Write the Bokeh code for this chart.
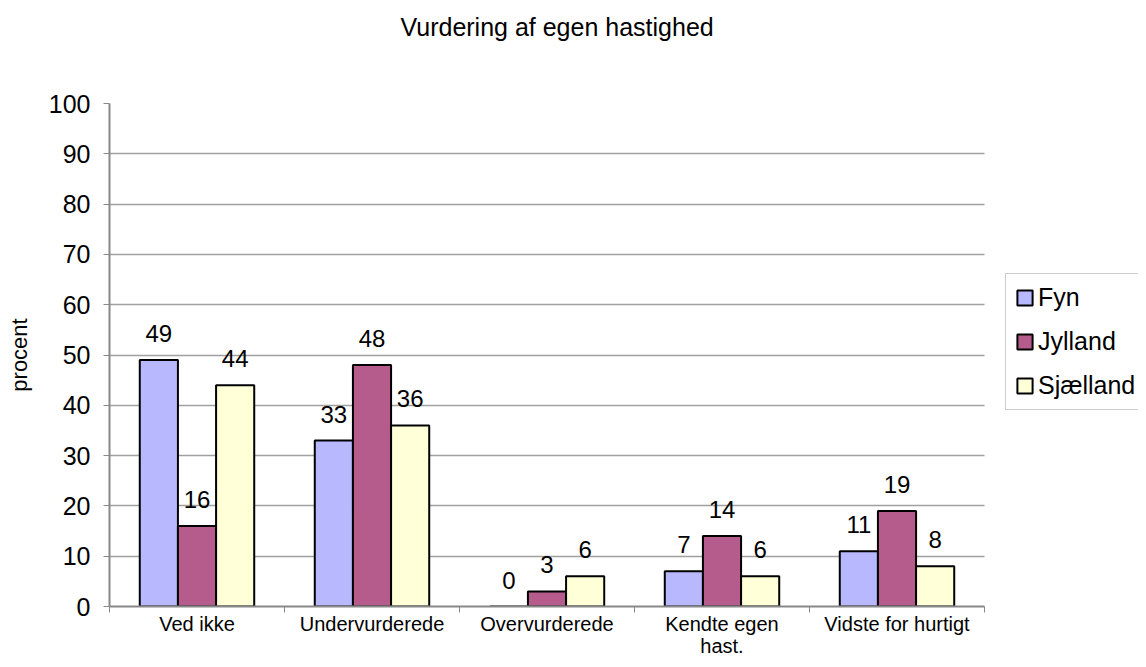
from bokeh.plotting import figure
from bokeh.models import ColumnDataSource, FixedTicker, Legend, LegendItem, Range1d, LabelSet, Title
from bokeh.core.properties import value
from bokeh.embed import file_html
from bokeh.resources import INLINE

categories = ["Ved ikke", "Undervurderede", "Overvurderede", "Kendte egen\nhast.", "Vidste for hurtigt"]
series_names = ["Fyn", "Jylland", "Sjælland"]
fyn = [49, 33, 0, 7, 11]
jylland = [16, 48, 3, 14, 19]
sjaelland = [44, 36, 6, 6, 8]
colors = ["#b8b8ff", "#b65c8c", "#ffffd8"]
y_ticks = list(range(0, 101, 10))
title_text = "Vurdering af egen hastighed"

FONT = "Liberation Sans"
N = len(categories)
X_END = 5.88  # extra room on the right of the frame for the legend

p = figure(width=1138, height=659, output_backend="svg", toolbar_location=None,
           x_range=Range1d(0, X_END), y_range=Range1d(0, 100),
           min_border_left=109, min_border_right=0, min_border_top=103, min_border_bottom=53)
p.title.text = title_text
p.title.align = "left"
p.title.offset = 291
p.title.text_font = FONT
p.title.text_font_size = "25px"
p.title.text_font_style = "normal"
p.title.text_color = "black"
p.title.standoff = 0

# empty spacer between the title and the plot area
spacer = Title(text=" ", text_font_size="10px", standoff=50)
p.add_layout(spacer, "above")

bw = 0.218
items = []
for k, (name, vals) in enumerate(zip(series_names, [fyn, jylland, sjaelland])):
    xs = [i + 0.5 + (k - 1) * bw for i in range(N)]
    src = ColumnDataSource(dict(x=xs, top=vals, lbl=[str(v) for v in vals]))
    r = p.vbar(x="x", top="top", width=bw, source=src, fill_color=colors[k],
               line_color="black", line_width=2)
    items.append(LegendItem(label=name, renderers=[r]))
    p.add_layout(LabelSet(x="x", y="top", text="lbl", source=src, text_align="center",
                          text_baseline="alphabetic", y_offset=18, text_font=value(FONT),
                          text_font_size=value("24px"), text_color="black"))

p.xaxis.ticker = FixedTicker(ticks=[i + 0.5 for i in range(N)],
                             minor_ticks=list(range(N + 1)))
p.xaxis.major_label_overrides = {i + 0.5: c for i, c in enumerate(categories)}
p.xaxis.bounds = (0, N)
p.xaxis.major_tick_line_color = None
p.xaxis.minor_tick_line_color = "#888888"
p.xaxis.minor_tick_out = 6
p.xaxis.minor_tick_in = 0
p.xaxis.axis_line_color = "#888888"
p.xaxis.axis_line_width = 2
p.xaxis.major_label_text_font = FONT
p.xaxis.major_label_text_font_size = "20px"
p.xaxis.major_label_text_line_height = 1.0
p.xaxis.major_label_text_color = "black"
p.xaxis.major_label_standoff = 0
p.xgrid.grid_line_color = None

p.yaxis.ticker = FixedTicker(ticks=y_ticks)
p.yaxis.minor_tick_line_color = None
p.yaxis.major_tick_line_color = "#888888"
p.yaxis.major_tick_out = 6
p.yaxis.major_tick_in = 0
p.yaxis.axis_line_color = "#888888"
p.yaxis.axis_line_width = 2
p.yaxis.major_label_text_font = FONT
p.yaxis.major_label_text_font_size = "25px"
p.yaxis.major_label_text_color = "black"
p.yaxis.major_label_standoff = 13
p.yaxis.axis_label = "procent"
p.yaxis.axis_label_text_font = FONT
p.yaxis.axis_label_text_font_size = "22px"
p.yaxis.axis_label_text_font_style = "normal"
p.yaxis.axis_label_text_color = "black"
p.yaxis.axis_label_standoff = 14
p.ygrid.grid_line_color = "#a0a0a0"
p.ygrid.grid_line_width = 1.5
p.ygrid.cross_bounds = (0, N)

p.outline_line_color = None

legend = Legend(items=items, location=(896, 196), label_text_font=FONT,
                label_text_font_size="25px", label_text_color="black",
                glyph_width=19, glyph_height=19,
                label_height=22, spacing=15, padding=9, margin=0,
                border_line_color="#999999", border_line_width=1.5, label_standoff=4)
p.add_layout(legend)

open("out.html", "w").write(file_html(p, INLINE))
